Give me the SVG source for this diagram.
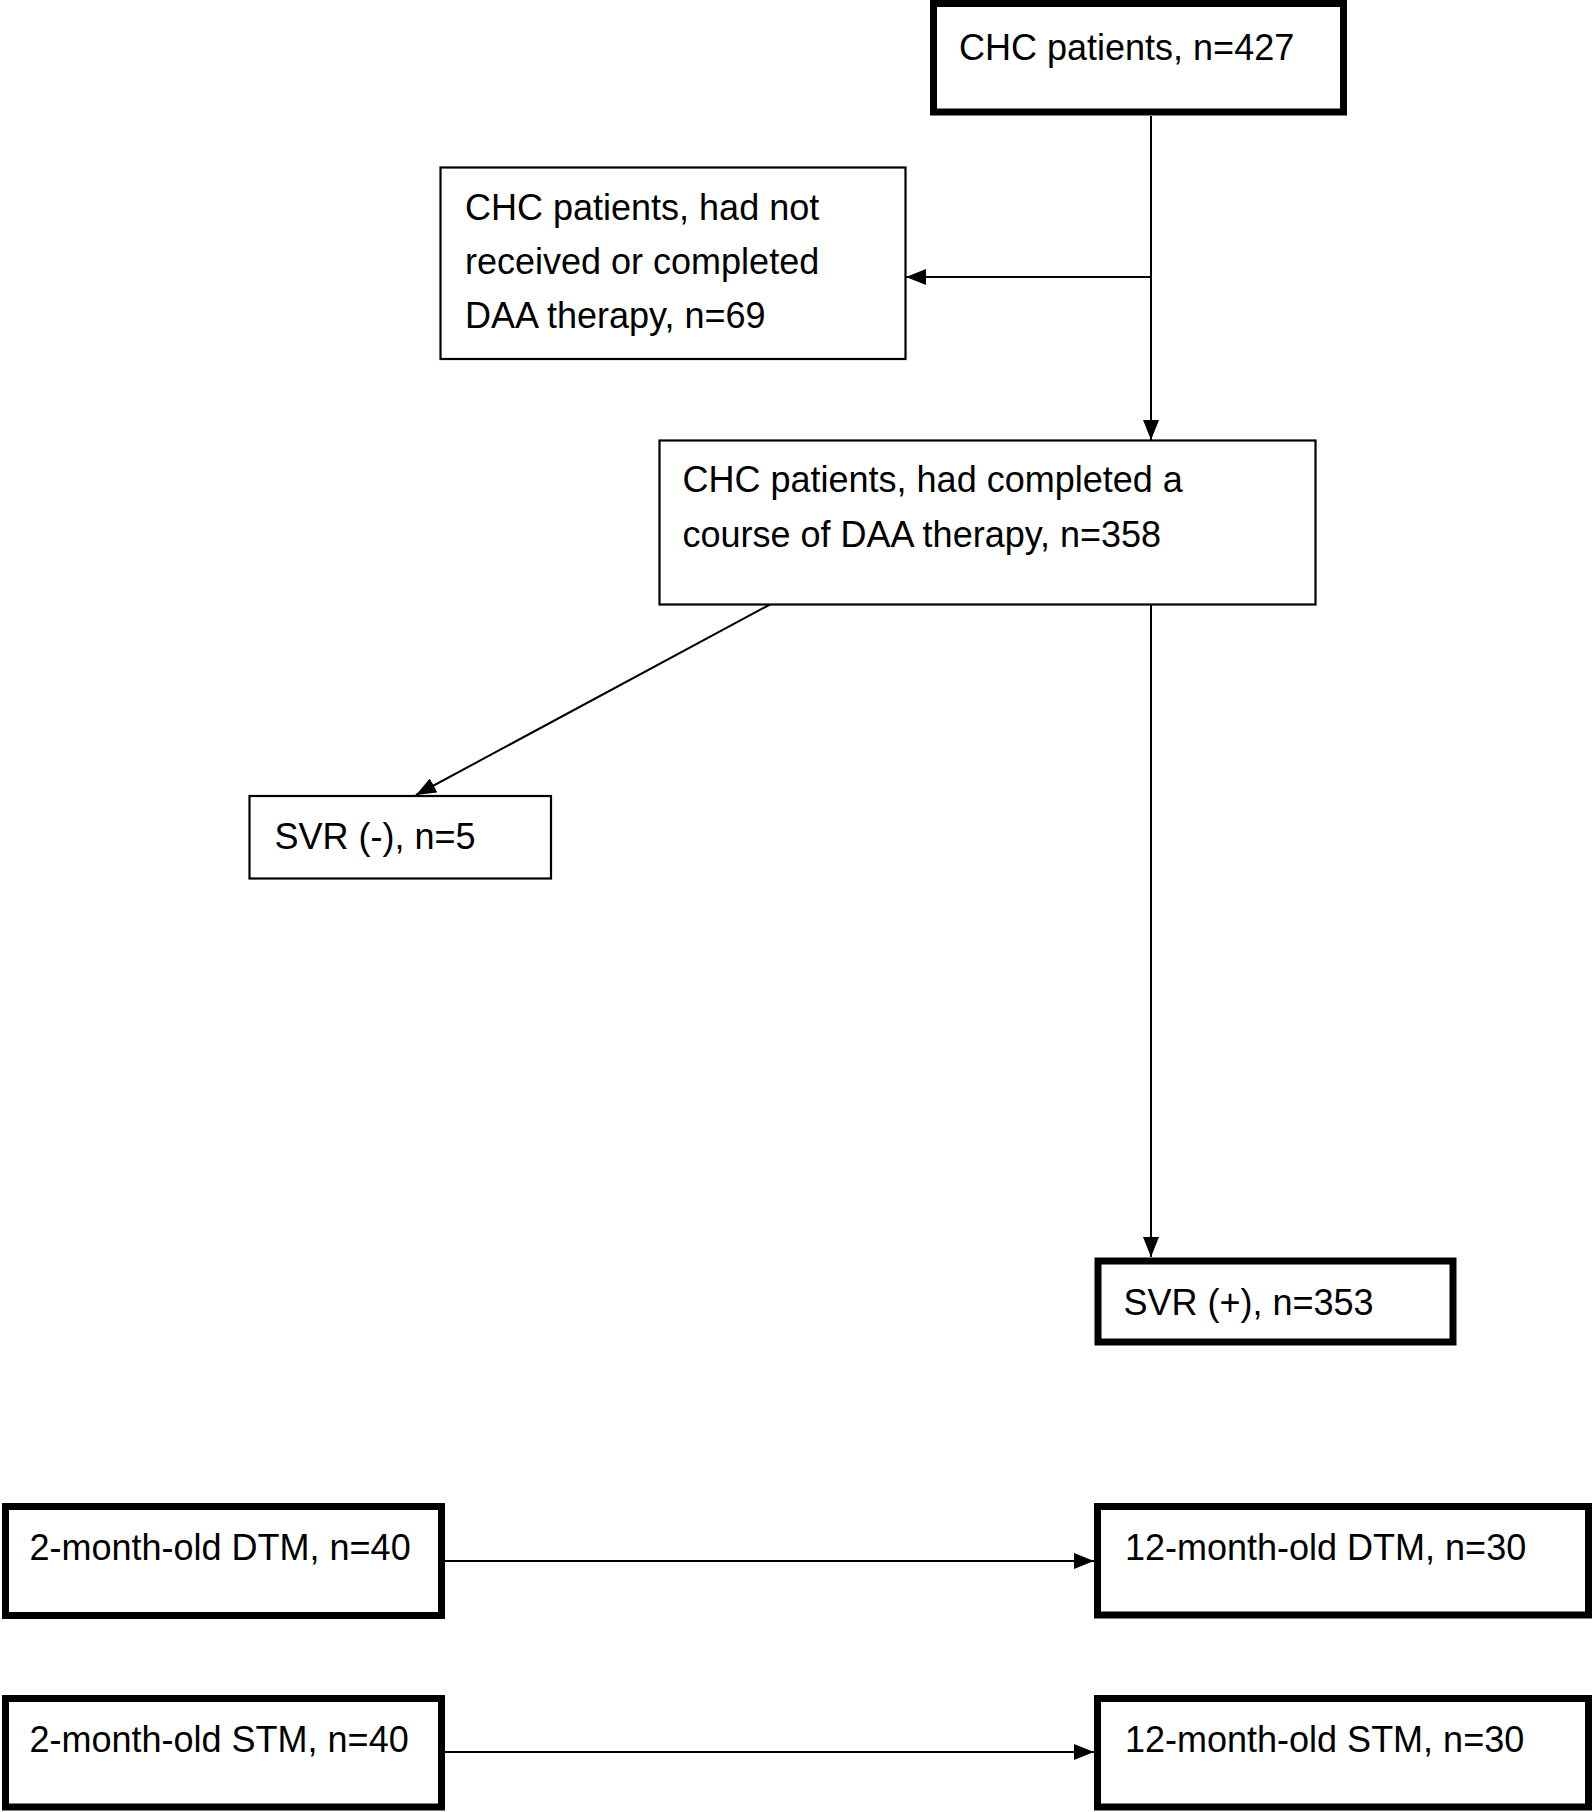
<svg xmlns="http://www.w3.org/2000/svg" width="1593" height="1812" viewBox="0 0 1593 1812">
<style>
.box{fill:#fff;stroke:#000;}
.thick{stroke-width:7;}
.thin{stroke-width:2.2;}
.lbl{font-family:"Liberation Sans",Arial,sans-serif;font-size:36px;fill:#000;}
.conn line{stroke:#000;stroke-width:2;fill:none;marker-end:url(#arr);}
</style>
<defs>
<marker id="arr" markerUnits="userSpaceOnUse" markerWidth="20" markerHeight="16" refX="20" refY="8" orient="auto">
<path d="M0,0 L20,8 L0,16 z" fill="#000"/>
</marker>
</defs>
<rect width="1593" height="1812" fill="#fff"/>
<g id="connectors" class="conn">
<line x1="1151" y1="116" x2="1151" y2="440"/>
<line x1="1151" y1="277" x2="906" y2="277"/>
<line x1="770" y1="604.5" x2="416" y2="795"/>
<line x1="1151" y1="604.5" x2="1151" y2="1257"/>
<line x1="444" y1="1561" x2="1094" y2="1561"/>
<line x1="444" y1="1752" x2="1094" y2="1752"/>
</g>
<g id="node-chc427">
<rect class="box thick" x="933.5" y="3.5" width="410" height="108.5"/>
<text class="lbl" x="959" y="59.5">CHC patients, n=427</text>
</g>
<g id="node-not-completed">
<rect class="box thin" x="440.5" y="167.5" width="465" height="191.5"/>
<text class="lbl" x="465" y="220">CHC patients, had not</text>
<text class="lbl" x="465" y="274">received or completed</text>
<text class="lbl" x="465" y="328">DAA therapy, n=69</text>
</g>
<g id="node-completed">
<rect class="box thin" x="659.5" y="440.5" width="656" height="164"/>
<text class="lbl" x="682.5" y="491.5">CHC patients, had completed a</text>
<text class="lbl" x="682.5" y="546.5">course of DAA therapy, n=358</text>
</g>
<g id="node-svr-neg">
<rect class="box thin" x="249.5" y="796" width="301.5" height="82.5"/>
<text class="lbl" x="274.5" y="848.5">SVR (-), n=5</text>
</g>
<g id="node-svr-pos">
<rect class="box thick" x="1098" y="1261" width="355" height="81"/>
<text class="lbl" x="1123.5" y="1315">SVR (+), n=353</text>
</g>
<g id="node-dtm2">
<rect class="box thick" x="5.5" y="1506.5" width="436" height="109"/>
<text class="lbl" x="29.5" y="1560">2-month-old DTM, n=40</text>
</g>
<g id="node-dtm12">
<rect class="box thick" x="1097.5" y="1506.5" width="491" height="108.5"/>
<text class="lbl" x="1125" y="1560">12-month-old DTM, n=30</text>
</g>
<g id="node-stm2">
<rect class="box thick" x="5.5" y="1698.5" width="436" height="108.5"/>
<text class="lbl" x="29.5" y="1751.5">2-month-old STM, n=40</text>
</g>
<g id="node-stm12">
<rect class="box thick" x="1097.5" y="1698.5" width="491" height="108.5"/>
<text class="lbl" x="1125" y="1751.5">12-month-old STM, n=30</text>
</g>
</svg>
